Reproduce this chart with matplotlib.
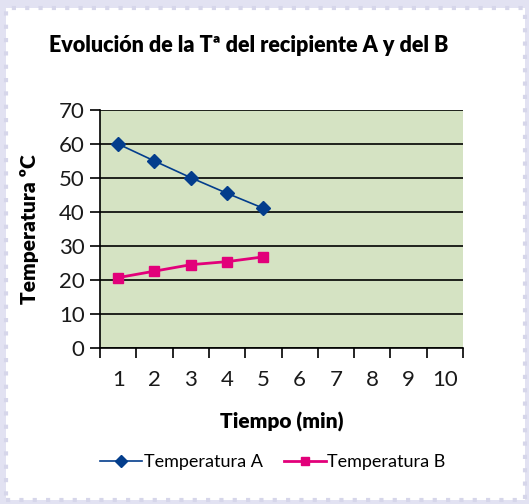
import matplotlib.pyplot as plt
from matplotlib.patches import Rectangle

# datos de la grafica
tiempo = [1, 2, 3, 4, 5]
temp_a = [60, 55, 50.1, 45.5, 41.1]
temp_b = [20.7, 22.6, 24.5, 25.4, 26.8]
etiquetas_x = [str(i) for i in range(1, 11)]

plt.rcParams['font.family'] = ['Lato', 'DejaVu Sans']

fig = plt.figure(figsize=(5.29, 5.04), dpi=100)
fig.patch.set_facecolor('#e2e2f2')

# marco blanco con borde punteado
marco = Rectangle((6 / 529, 4 / 504), 519 / 529, 492 / 504, transform=fig.transFigure,
                  facecolor='white', edgecolor='#d6d6ea', lw=3, linestyle=(0, (1, 2.2)),
                  zorder=-5)
fig.patches.append(marco)

ax = fig.add_axes([100 / 529, 1 - 348 / 504, 363 / 529, 238 / 504])
ax.set_zorder(2)
ax.set_facecolor('#d5e3c3')

ax.plot(tiempo, temp_a, color='#033d8c', lw=1.2, marker='D', ms=7, label='Temperatura A', zorder=3)
ax.plot(tiempo, temp_b, color='#e2007a', lw=2, marker='s', ms=7, label='Temperatura B', zorder=3)

ax.set_xlim(0.5, 10.5)
ax.set_ylim(0, 70)
ax.set_yticks(range(0, 71, 10))
ax.yaxis.grid(True, color='black', lw=1.2)
ax.set_axisbelow(True)

ax.set_xticks([i + 0.5 for i in range(0, 11)])
ax.set_xticklabels([])
ax.set_xticks(range(1, 11), minor=True)
ax.set_xticklabels(etiquetas_x, minor=True)
ax.tick_params(axis='x', which='major', direction='out', length=7, width=1.2)
ax.tick_params(axis='x', which='minor', length=0, pad=16, labelsize=16, labelcolor='#1a1a1a')
ax.tick_params(axis='y', direction='out', length=7, width=1.2, labelsize=16, pad=4,
               labelcolor='#1a1a1a')

for lado in ['top', 'right']:
    ax.spines[lado].set_visible(False)
ax.spines['left'].set_linewidth(1.2)
ax.spines['bottom'].set_linewidth(1.2)

ax.set_ylabel('Temperatura ºC', fontsize=15, fontweight='heavy', labelpad=14)
ax.set_xlabel('Tiempo (min)', fontsize=15, fontweight='heavy', labelpad=16)

fig.text(249 / 529, 1 - 45 / 504, 'Evolución de la Tª del recipiente A y del B',
         ha='center', va='center', fontsize=15.5, fontweight='heavy')

fig.legend(loc='center', bbox_to_anchor=(273 / 529, 1 - 462 / 504), ncol=2, frameon=False,
           fontsize=13, handlelength=2.3, handletextpad=0.1, columnspacing=1.2, markerscale=0.9)

fig.savefig('out.png', dpi=100, facecolor=fig.get_facecolor())
